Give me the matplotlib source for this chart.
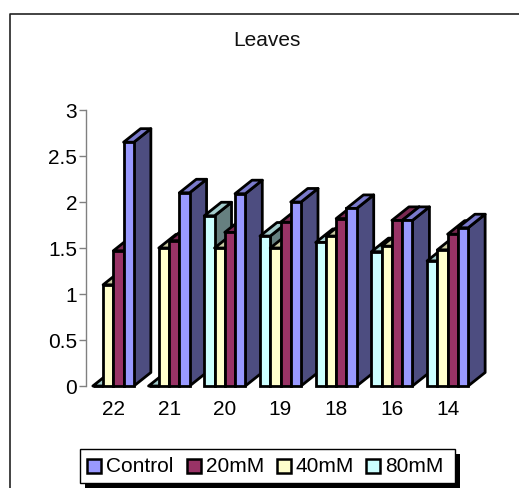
import matplotlib
matplotlib.use('Agg')
import matplotlib.pyplot as plt
from matplotlib.lines import Line2D
from matplotlib.patches import Polygon, Rectangle
from matplotlib.colors import to_rgb

plt.rcParams['font.family'] = ['Liberation Sans', 'DejaVu Sans']

categories = ['22', '21', '20', '19', '18', '16', '14']
# drawn left to right inside each group
v_80mm = [0, 0, 1.85, 1.63, 1.56, 1.46, 1.36]
v_40mm = [1.1, 1.5, 1.5, 1.5, 1.63, 1.52, 1.48]
v_20mm = [1.47, 1.58, 1.67, 1.78, 1.82, 1.8, 1.65]
v_control = [2.65, 2.1, 2.09, 2.0, 1.93, 1.8, 1.72]
series = [v_80mm, v_40mm, v_20mm, v_control]
colors = ['#CCFFFF', '#FFFFCC', '#993366', '#9999FF']
legend_names = ['Control', '20mM', '40mM', '80mM']
legend_colors = ['#9999FF', '#993366', '#FFFFCC', '#CCFFFF']

W, H = 519, 488
fig = plt.figure(figsize=(W / 100, H / 100), dpi=100)
ax = fig.add_axes([85.5 / W, 1 - 386 / H, 390 / W, 276 / H])
ax.set_xlim(-0.5, 6.5)
ax.set_ylim(0, 3)

bar_w = 0.184
dx = 0.305
dy = 0.147
lw = 2.0


def shade(c, k):
    return tuple(v * k for v in to_rgb(c))


for i in range(len(categories)):
    for s, vals in enumerate(series):
        x0 = i - 2 * bar_w + s * bar_w
        x1 = x0 + bar_w
        v = vals[i]
        z = 3 + i * 10 + s
        # side and top of the 3d bar
        ax.add_patch(Polygon([(x1, 0), (x1 + dx, dy), (x1 + dx, v + dy), (x1, v)],
                             fc=shade(colors[s], 0.5), ec='black', lw=lw, joinstyle='round',
                             clip_on=False, zorder=z))
        ax.add_patch(Polygon([(x0, v), (x0 + dx, v + dy), (x1 + dx, v + dy), (x1, v)],
                             fc=shade(colors[s], 0.8), ec='black', lw=lw, joinstyle='round',
                             clip_on=False, zorder=z))
        ax.bar(x0, v, bar_w, align='edge', color=colors[s], edgecolor='black', lw=lw,
               clip_on=False, zorder=z + 0.5)

for sp in ['top', 'right', 'bottom']:
    ax.spines[sp].set_visible(False)
ax.spines['left'].set_color('#808080')
ax.spines['left'].set_linewidth(1)
ax.set_xticks(range(len(categories)))
ax.set_xticklabels(categories)
ax.set_yticks([0, 0.5, 1, 1.5, 2, 2.5, 3])
ax.set_yticklabels(['0', '0.5', '1', '1.5', '2', '2.5', '3'])
ax.tick_params(axis='x', length=0, labelsize=15, pad=10)
ax.tick_params(axis='y', length=5, width=1, color='#808080', labelsize=15, pad=1)

fig.text(267 / W, 1 - 41 / H, 'Leaves', ha='center', va='center', fontsize=15, color='#111111')

# chart frame, only the top and left edges fall inside the picture
fig.add_artist(Line2D([1, 9.5 / W, 9.5 / W], [1 - 14 / H, 1 - 14 / H, 0], transform=fig.transFigure,
                      color='#222222', lw=1.2))

# legend box with its shadow
fig.add_artist(Rectangle((85 / W, 1 - 490 / H), 375 / W, 36 / H, transform=fig.transFigure,
                         fc='black', ec='none', zorder=5))
fig.add_artist(Rectangle((80 / W, 1 - 483 / H), 375 / W, 34 / H, transform=fig.transFigure,
                         fc='white', ec='black', lw=1, zorder=6))
legend_x = [87, 187, 277, 366]
for name, c, x in zip(legend_names, legend_colors, legend_x):
    fig.add_artist(Rectangle((x / W, 1 - 472.5 / H), 14 / W, 14 / H, transform=fig.transFigure,
                             fc=c, ec='black', lw=1.8, zorder=7))
    fig.text((x + 19) / W, 1 - 466 / H, name, ha='left', va='center', fontsize=15, zorder=7)

fig.savefig('out.png', dpi=100)
